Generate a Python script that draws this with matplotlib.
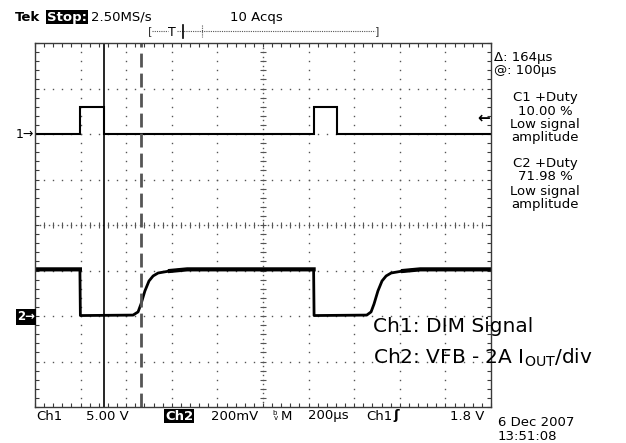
import numpy as np
import matplotlib
matplotlib.use("Agg")
import matplotlib.pyplot as plt

plt.rcParams['font.family'] = ['DejaVu Sans']
plt.rcParams['mathtext.fontset'] = 'dejavusans'

# ---------------- data ----------------
time_per_div = 200.0        # µs/div
ch1_volts_per_div = 5.0     # V/div
ch2_mv_per_div = 200.0      # mV/div
ch1_offset_div = 2.0
ch2_offset_div = -2.0

ch1_t = [0, 197, 197, 303, 303, 1224, 1224, 1326, 1326, 2000]
ch1_v = [0, 0, 3.0, 3.0, 0, 0, 3.0, 3.0, 0, 0]

ch2_t = [0, 197, 199, 430, 452, 465, 482, 500, 518, 540, 592, 667,
         1222, 1224, 1455, 1474, 1487, 1504, 1522, 1540, 1562, 1614, 1689, 2000]
ch2_mv = [205, 205, 2, 4, 18, 53, 110, 154, 176, 189, 198, 205,
          205, 2, 4, 18, 53, 110, 154, 176, 189, 198, 205, 205]

cursor1_t = 303.0
cursor_delta = 164.0
trigger_level_v = 1.8

readout_top = ["Tek", "Stop:", "2.50MS/s", "10 Acqs"]
cursor_text = ["Δ: 164µs", "@: 100µs"]
meas1 = ["C1 +Duty", "10.00 %", "Low signal", "amplitude"]
meas2 = ["C2 +Duty", "71.98 %", "Low signal", "amplitude"]
bottom_text = ["Ch1", "5.00 V", "Ch2", "200mV", "M", "200µs", "Ch1", "1.8 V"]
date_text = ["6 Dec 2007", "13:51:08"]
notes = ["Ch1: DIM Signal", r"Ch2: VFB - 2A I$_{\mathrm{OUT}}$/div"]

# ---------------- figure ----------------
W, H = 626, 443
fig = plt.figure(figsize=(W / 100, H / 100), dpi=100)
fig.patch.set_facecolor('white')

L, R, T, B = 35, 491, 43, 407
ax = fig.add_axes([L / W, (H - B) / H, (R - L) / W, (B - T) / H])
ax.set_xlim(0, 10 * time_per_div)
ax.set_ylim(-4, 4)
ax.set_facecolor('white')

for s in ax.spines.values():
    s.set_color('#3a3a3a')
    s.set_linewidth(1.0)

ax.set_xticks(np.arange(0, 10 * time_per_div + 1, time_per_div / 5))
ax.set_yticks(np.arange(-4, 4.001, 0.2))
ax.tick_params(direction='in', length=3, width=0.8, color='#3a3a3a',
               top=True, right=True, labelbottom=False, labelleft=False)

gc = '#555555'
for k in range(1, 10):
    if k == 5:
        continue
    yy = np.arange(-4, 4.001, 0.2)
    ax.plot(np.full_like(yy, k * time_per_div), yy, ls='none', marker='s',
            ms=1.0, mew=0, color=gc)
for j in [-3, -2, -1, 1, 2, 3]:
    xx = np.arange(0, 10 * time_per_div + 1, time_per_div / 5)
    ax.plot(xx, np.full_like(xx, j), ls='none', marker='s', ms=1.0, mew=0, color=gc)
xx = np.arange(0, 10 * time_per_div + 1, time_per_div / 5)
ax.plot(xx, np.zeros_like(xx), ls='none', marker='|', ms=5, mew=0.8, color=gc)
xm = np.arange(0, 10 * time_per_div + 1, time_per_div / 10)
ax.plot(xm, np.zeros_like(xm), ls='none', marker='s', ms=1.0, mew=0, color=gc)
yy = np.arange(-4, 4.001, 0.2)
ax.plot(np.full_like(yy, 5 * time_per_div), yy, ls='none', marker='_', ms=5, mew=0.8, color=gc)
ym = np.arange(-4, 4.001, 0.1)
ax.plot(np.full_like(ym, 5 * time_per_div), ym, ls='none', marker='s', ms=1.0, mew=0, color=gc)

# traces
y1 = ch1_offset_div + np.array(ch1_v) / ch1_volts_per_div
ax.plot(ch1_t, y1, color='black', lw=1.5, solid_joinstyle='miter')
y2 = ch2_offset_div + np.array(ch2_mv) / ch2_mv_per_div
ax.plot(ch2_t, y2, color='black', lw=2.0)
hi = np.where(np.array(ch2_mv) >= 198, y2, np.nan)
ax.plot(ch2_t, hi, color='black', lw=3.0)

# cursors
ax.axvline(cursor1_t, color='black', lw=1.2)
ax.axvline(cursor1_t + cursor_delta, color='#555555', lw=2.0, dashes=(5, 2.2))

# trigger level marker on right edge
ax.annotate('←', xy=(0.998, ch1_offset_div + trigger_level_v / ch1_volts_per_div),
            xycoords=('axes fraction', 'data'), ha='right', va='center',
            fontsize=11, fontweight='bold')

# ---------------- overlay (pixel coords) ----------------
ov = fig.add_axes([0, 0, 1, 1])
ov.set_xlim(0, W)
ov.set_ylim(H, 0)
ov.axis('off')
ov.patch.set_alpha(0)

fs = 9.5
ov.text(15, 17, readout_top[0], fontsize=fs, fontweight='bold', va='center', ha='left')
ov.text(47, 17, readout_top[1], fontsize=fs, fontweight='bold', color='white', va='center', ha='left',
        bbox=dict(facecolor='black', edgecolor='none', pad=0.6))
ov.text(91, 17, readout_top[2], fontsize=fs, va='center', ha='left')
ov.text(230, 17, readout_top[3], fontsize=fs, va='center', ha='left')

yb = 31
ov.text(148, yb, '[', fontsize=8, va='center', ha='left', color='#333')
ov.plot([152, 168], [yb, yb], color='#555', lw=0.8, ls=(0, (1, 1)))
ov.text(172, yb + 1, 'T', fontsize=9, va='center', ha='center')
ov.plot([177, 375], [yb, yb], color='#555', lw=0.8, ls=(0, (1, 1)))
ov.plot([183, 183], [25, 38], color='black', lw=1.2)
ov.plot([202, 202], [25, 37], color='#555', lw=0.8, ls=(0, (1, 1)))
ov.text(379, yb, ']', fontsize=8, va='center', ha='right', color='#333')

ov.text(494, 57, cursor_text[0], fontsize=fs, va='center', ha='left')
ov.text(494, 70, cursor_text[1], fontsize=fs, va='center', ha='left')

for i, s in enumerate(meas1):
    ov.text(545, [97, 111, 124, 138][i], s, fontsize=fs, va='center', ha='center')
for i, s in enumerate(meas2):
    ov.text(545, [164, 177, 191, 204][i], s, fontsize=fs, va='center', ha='center')

ov.text(16, 134, '1→', fontsize=9, va='center', ha='left')
ov.text(17, 317, '2→', fontsize=8.5, fontweight='bold', color='white', va='center', ha='left',
        bbox=dict(facecolor='black', edgecolor='none', pad=0.8))

yb2 = 416
ov.text(36, yb2, bottom_text[0], fontsize=fs, va='center', ha='left')
ov.text(86, yb2, bottom_text[1], fontsize=fs, va='center', ha='left')
ov.text(165, yb2, bottom_text[2], fontsize=fs, fontweight='bold', color='white', va='center', ha='left',
        bbox=dict(facecolor='black', edgecolor='none', pad=0.6))
ov.text(211, yb2, bottom_text[3], fontsize=fs, va='center', ha='left')
ov.text(272, yb2 - 3, 'b', fontsize=5, va='center', ha='left')
ov.text(274, yb2 + 2, 'v', fontsize=5, va='center', ha='left')
ov.text(281, yb2, bottom_text[4], fontsize=fs, va='center', ha='left')
ov.text(308, yb2, bottom_text[5], fontsize=fs, va='center', ha='left')
ov.text(366, yb2, bottom_text[6], fontsize=fs, va='center', ha='left')
ov.text(393, yb2, 'ʃ', fontsize=fs, fontweight='bold', va='center', ha='left')
ov.text(450, yb2, bottom_text[7], fontsize=fs, va='center', ha='left')
ov.text(498, 422, date_text[0], fontsize=fs, va='center', ha='left')
ov.text(498, 437, date_text[1], fontsize=fs, va='center', ha='left')

ov.text(373, 327, notes[0], fontsize=14.5, va='center', ha='left')
ov.text(373, 358, notes[1], fontsize=14.5, va='center', ha='left')

fig.savefig('out.png', dpi=100, facecolor='white')
